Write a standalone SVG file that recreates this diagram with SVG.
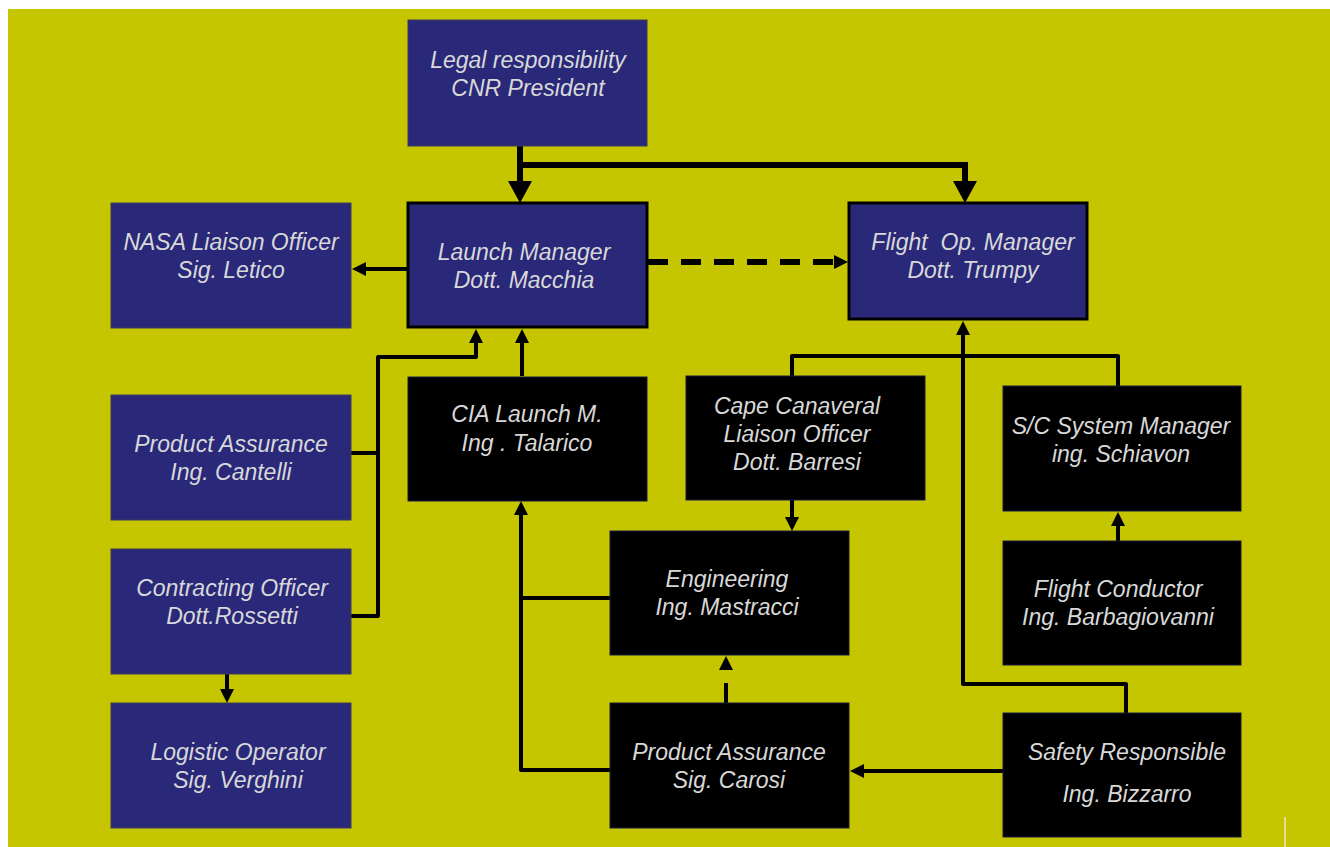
<svg xmlns="http://www.w3.org/2000/svg" width="1330" height="847" viewBox="0 0 1330 847">
  <style>
    .navy { fill: #2A2878; stroke: #3a3a5a; stroke-width: 1; }
    .navy-b { fill: #2A2878; stroke: #000; stroke-width: 3; }
    .blk { fill: #000; stroke: #1a1a40; stroke-width: 1; }
    text { font-family: "Liberation Sans", Arial, sans-serif; font-style: italic; font-size: 23px; fill: #D8D8D8; text-anchor: middle; }
    .wire { fill: none; stroke: #000; stroke-width: 4; stroke-linejoin: round; }
    .thick { fill: none; stroke: #000; stroke-width: 6; }
    .dash { fill: none; stroke: #000; stroke-width: 6; stroke-dasharray: 20 13; }
  </style>
  <defs>
    <!-- arrowheads start at the line end and point forward -->
    <marker id="bigHead" markerUnits="userSpaceOnUse" markerWidth="24" markerHeight="26" refX="0" refY="12" orient="auto">
      <path d="M0,0 L22,12 L0,24 Z" fill="#000"/>
    </marker>
    <marker id="head" markerUnits="userSpaceOnUse" markerWidth="16" markerHeight="16" refX="0" refY="7" orient="auto">
      <path d="M0,0 L14,7 L0,14 Z" fill="#000"/>
    </marker>
  </defs>

  <!-- backdrop -->
  <rect x="0" y="0" width="1330" height="847" fill="#fff"/>
  <rect x="8" y="9" width="1322" height="838" fill="#C6C600"/>
  <line x1="1285" y1="817" x2="1285" y2="847" stroke="#E8E8C0" stroke-width="1.5"/>

  <!-- connectors -->
  <g id="connectors">
    <path class="thick" d="M520,146 V181" marker-end="url(#bigHead)"/>
    <path class="thick" d="M517,165 H965 V181" marker-end="url(#bigHead)"/>
    <path class="dash" d="M648,262 H834" />
    <path d="M834,255 L848,262 L834,269 Z" fill="#000"/>
    <path class="wire" d="M407,269 H366" marker-end="url(#head)"/>
    <path class="wire" d="M351,453 H378" />
    <path class="wire" d="M351,616 H378 V357 H476 V343" marker-end="url(#head)"/>
    <path class="wire" d="M522,376 V343" marker-end="url(#head)"/>
    <path class="wire" d="M610,598 H521" />
    <path class="wire" d="M610,770 H521 V515" marker-end="url(#head)"/>
    <path class="wire" d="M227,674 V689" marker-end="url(#head)"/>
    <path class="wire" d="M792,500 V517" marker-end="url(#head)"/>
    <path class="wire" d="M792,376 V356 H1118 V386" />
    <path class="wire" d="M1126,713 V684 H963 V335" marker-end="url(#head)"/>
    <path class="wire" d="M1118,541 V526" marker-end="url(#head)"/>
    <path class="wire" d="M1003,771 H864" marker-end="url(#head)"/>
    <path class="wire" d="M726,703 V683" />
    <path d="M719,670 L726,656 L733,670 Z" fill="#000"/>
  </g>

  <!-- nodes -->
  <g id="legal">
    <rect class="navy" x="408" y="20" width="239" height="126"/>
    <text x="528" y="68">Legal responsibility</text>
    <text x="528" y="96">CNR President</text>
  </g>
  <g id="launch-manager">
    <rect class="navy-b" x="408" y="203" width="239" height="124"/>
    <text x="524" y="260">Launch Manager</text>
    <text x="524" y="288">Dott. Macchia</text>
  </g>
  <g id="flight-op-manager">
    <rect class="navy-b" x="849" y="203" width="238" height="116"/>
    <text x="973" y="250" xml:space="preserve">Flight  Op. Manager</text>
    <text x="973" y="278">Dott. Trumpy</text>
  </g>
  <g id="nasa-liaison">
    <rect class="navy" x="111" y="203" width="240" height="125"/>
    <text x="231" y="250">NASA Liaison Officer</text>
    <text x="231" y="278">Sig. Letico</text>
  </g>
  <g id="product-assurance-cantelli">
    <rect class="navy" x="111" y="395" width="240" height="125"/>
    <text x="231" y="452">Product Assurance</text>
    <text x="231" y="480">Ing. Cantelli</text>
  </g>
  <g id="contracting-officer">
    <rect class="navy" x="111" y="549" width="240" height="125"/>
    <text x="232" y="596">Contracting Officer</text>
    <text x="232" y="624">Dott.Rossetti</text>
  </g>
  <g id="logistic-operator">
    <rect class="navy" x="111" y="703" width="240" height="125"/>
    <text x="238" y="760">Logistic Operator</text>
    <text x="238" y="788">Sig. Verghini</text>
  </g>
  <g id="cia-launch">
    <rect class="blk" x="408" y="377" width="239" height="124"/>
    <text x="527" y="422">CIA Launch M.</text>
    <text x="527" y="451">Ing . Talarico</text>
  </g>
  <g id="cape-canaveral">
    <rect class="blk" x="686" y="376" width="239" height="124"/>
    <text x="797" y="414">Cape Canaveral</text>
    <text x="797" y="442">Liaison Officer</text>
    <text x="797" y="470">Dott. Barresi</text>
  </g>
  <g id="sc-system-manager">
    <rect class="blk" x="1003" y="386" width="238" height="125"/>
    <text x="1121" y="434">S/C System Manager</text>
    <text x="1121" y="462">ing. Schiavon</text>
  </g>
  <g id="engineering">
    <rect class="blk" x="610" y="531" width="239" height="124"/>
    <text x="727" y="587">Engineering</text>
    <text x="727" y="615">Ing. Mastracci</text>
  </g>
  <g id="flight-conductor">
    <rect class="blk" x="1003" y="541" width="238" height="124"/>
    <text x="1118" y="597">Flight Conductor</text>
    <text x="1118" y="625">Ing. Barbagiovanni</text>
  </g>
  <g id="product-assurance-carosi">
    <rect class="blk" x="610" y="703" width="239" height="125"/>
    <text x="729" y="760">Product Assurance</text>
    <text x="729" y="788">Sig. Carosi</text>
  </g>
  <g id="safety-responsible">
    <rect class="blk" x="1003" y="713" width="238" height="124"/>
    <text x="1127" y="760">Safety Responsible</text>
    <text x="1127" y="802">Ing. Bizzarro</text>
  </g>
</svg>
